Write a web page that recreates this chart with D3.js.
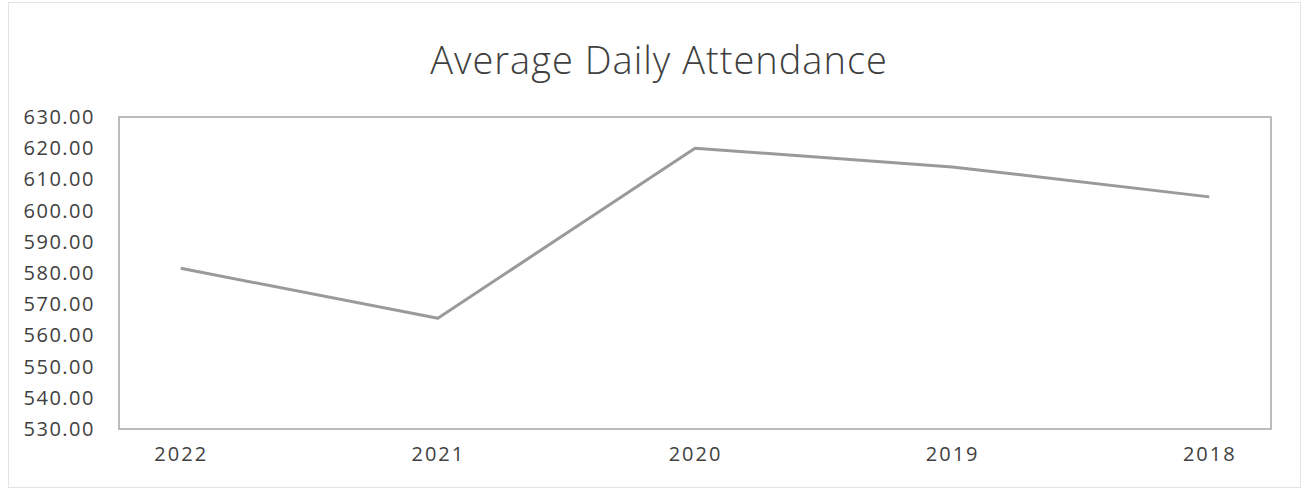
<!DOCTYPE html>
<html>
<head>
<meta charset="utf-8">
<script src="https://cdn.jsdelivr.net/npm/d3@7"></script>
<style>
body { margin: 0; background: #fff; }
svg text { font-family: "Open Sans", "Noto Sans", sans-serif; fill: #404040; }
</style>
</head>
<body>
<svg id="chart"></svg>
<script>
// data
var years = ["2022", "2021", "2020", "2019", "2018"];
var attendance = [581.5, 565.5, 620.0, 614.0, 604.4];
var yTicks = [530, 540, 550, 560, 570, 580, 590, 600, 610, 620, 630];

var svgx = 1307;
var svgy = 491;
var margin = {top: 117, right: 36, bottom: 62, left: 119};
var x = svgx - margin.left - margin.right;
var y = svgy - margin.top - margin.bottom;

var svg = d3.select("#chart").attr("width", svgx).attr("height", svgy);

// outer frame
svg.append("rect")
    .attr("x", 8.5).attr("y", 2.5)
    .attr("width", 1292).attr("height", 485)
    .attr("fill", "none")
    .attr("stroke", "#e4e4e4");

svg.append("text")
    .attr("x", 659)
    .attr("y", 74)
    .attr("text-anchor", "middle")
    .style("font-size", "38px")
    .style("font-weight", 300)
    .style("letter-spacing", "1px")
    .text("Average Daily Attendance");

var wrapper = svg.append("g")
    .attr("transform", "translate(" + margin.left + "," + margin.top + ")");

var xscale = d3.scalePoint().domain(years).range([0, x]).padding(0.24);
var yscale = d3.scaleLinear().domain([530, 630]).range([y, 0]);

// plot border
wrapper.append("rect")
    .attr("x", 0).attr("y", 0)
    .attr("width", x).attr("height", y)
    .attr("fill", "none")
    .attr("stroke", "#a6a6a6")
    .attr("stroke-width", 1.5);

var yaxis = d3.axisLeft(yscale)
    .tickValues(yTicks)
    .tickFormat(d3.format(".2f"))
    .tickSize(0)
    .tickPadding(24);
var ag = wrapper.append("g").call(yaxis);
ag.select(".domain").remove();
ag.selectAll("text")
    .style("font-size", "20px")
    .style("letter-spacing", "1.5px")
    .attr("fill", "#404040");

var xaxis = d3.axisBottom(xscale).tickSize(0).tickPadding(18);
var xg = wrapper.append("g").attr("transform", "translate(0," + y + ")").call(xaxis);
xg.select(".domain").remove();
xg.selectAll("text")
    .style("font-size", "20px")
    .style("letter-spacing", "2px")
    .attr("fill", "#404040");

var line = d3.line()
    .x(function(d, i) { return xscale(years[i]); })
    .y(function(d) { return yscale(d); });

wrapper.append("path")
    .datum(attendance)
    .attr("d", line)
    .attr("fill", "none")
    .attr("stroke", "#9a9a9a")
    .attr("stroke-width", 3)
    .attr("stroke-linejoin", "round");
</script>
</body>
</html>
